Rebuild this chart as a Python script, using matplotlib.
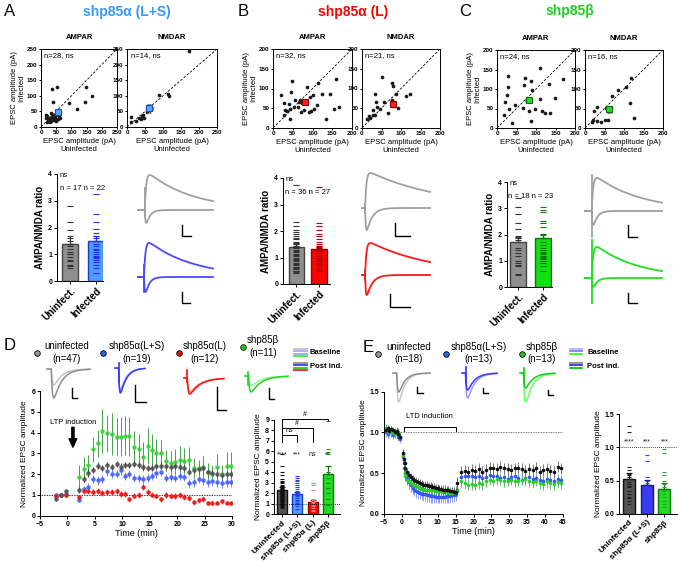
import numpy as np
import matplotlib
matplotlib.use('Agg')
import matplotlib.pyplot as plt

plt.rcParams['font.family'] = ['Liberation Sans', 'DejaVu Sans']
plt.rcParams['axes.linewidth'] = 0.7
plt.rcParams['xtick.major.width'] = 0.7
plt.rcParams['ytick.major.width'] = 0.7
plt.rcParams['xtick.major.size'] = 2
plt.rcParams['ytick.major.size'] = 2
plt.rcParams['xtick.major.pad'] = 1.5
plt.rcParams['ytick.major.pad'] = 1.5

# ---------------- data: scatter panels (EPSC amplitude, pA) ----------------
a_ampa_x = [36, 54, 41, 148, 145, 168, 93, 120, 15, 20, 25, 28, 30, 32, 35, 38, 40, 42,
            45, 48, 50, 55, 58, 60, 62, 20, 18, 33]
a_ampa_y = [121, 128, 81, 127, 81, 99, 76, 58, 40, 35, 25, 15, 30, 20, 35, 28, 40, 22,
            30, 38, 20, 25, 42, 35, 30, 15, 28, 45]
a_nmda_x = [172, 115, 118, 88, 10, 12, 25, 32, 38, 42, 45, 48, 55, 62]
a_nmda_y = [245, 105, 98, 102, 15, 33, 20, 28, 25, 35, 40, 30, 48, 50]
b_ampa_x = [48, 21, 27, 46, 42, 35, 52, 56, 65, 69, 73, 63, 71, 87, 94, 100, 97, 113, 125,
            112, 145, 134, 159, 155, 166, 27, 44, 31, 90, 78, 40, 103]
b_ampa_y = [118, 83, 64, 90, 49, 42, 53, 70, 66, 72, 63, 53, 41, 104, 79, 83, 44, 115, 86,
            58, 86, 24, 125, 47, 53, 32, 24, 45, 40, 45, 62, 49]
b_nmda_x = [52, 78, 80, 34, 37, 57, 87, 112, 123, 93, 67, 28, 33, 18, 13, 20, 28, 45, 82, 76, 38]
b_nmda_y = [128, 113, 106, 87, 66, 66, 85, 81, 85, 51, 39, 45, 32, 30, 24, 26, 34, 47, 55, 70, 52]
c_ampa_x = [111, 27, 72, 28, 70, 88, 26, 89, 134, 170, 149, 21, 47, 66, 83, 30, 98, 109,
            115, 123, 136, 88, 38, 17]
c_ampa_y = [155, 134, 128, 105, 111, 121, 85, 98, 113, 125, 77, 66, 60, 51, 43, 49, 49, 75,
            43, 38, 38, 17, 13, 34]
c_nmda_x = [117, 106, 85, 115, 126, 68, 66, 54, 31, 23, 30, 40, 51, 60, 17, 21]
c_nmda_y = [129, 104, 98, 64, 26, 81, 51, 51, 54, 43, 17, 15, 21, 21, 15, 21]
# mean +/- sem squares (x, y, xerr, yerr)
a_ampa_mean = [55, 48, 8, 6]
a_nmda_mean = [62, 60, 9, 15]
b_ampa_mean = [81, 66, 7, 5]
b_nmda_mean = [80, 62, 8, 7]
c_ampa_mean = [81, 72, 9, 8]
c_nmda_mean = [62, 48, 8, 9]

# ---------------- data: AMPA/NMDA ratio bars ----------------
ratio_groups = ['Uninfect.', 'Infected']
a_ratio_unin = [2.8, 2.2, 1.9, 1.6, 1.5, 1.4, 1.3, 1.2, 1.1, 1.0, 1.0, 0.9, 0.8, 0.75, 0.6, 0.55, 0.5]
a_ratio_inf = [3.25, 2.5, 2.2, 1.95, 1.8, 1.7, 1.6, 1.5, 1.4, 1.3, 1.2, 1.15, 1.1, 1.0, 0.95,
               0.9, 0.85, 0.8, 0.7, 0.6, 0.5, 0.3]
a_ratio_mean = [1.40, 1.48]
a_ratio_sem = [0.27, 0.22]
b_ratio_unin = [3.75, 2.35, 2.2, 2.05, 1.95, 1.9, 1.8, 1.75, 1.7, 1.6, 1.55, 1.5, 1.45, 1.4,
                1.35, 1.3, 1.25, 1.2, 1.15, 1.1, 1.05, 1.0, 0.95, 0.9, 0.85, 0.8, 0.75, 0.7,
                0.65, 0.6, 0.6, 0.55, 0.5, 0.5, 0.45, 0.4]
b_ratio_inf = [3.65, 2.3, 2.2, 2.05, 1.9, 1.8, 1.7, 1.6, 1.5, 1.45, 1.4, 1.35, 1.3, 1.25, 1.2,
               1.1, 1.05, 1.0, 0.95, 0.9, 0.85, 0.8, 0.75, 0.7, 0.6, 0.55, 0.5]
b_ratio_mean = [1.40, 1.33]
b_ratio_sem = [0.11, 0.12]
c_ratio_unin = [3.4, 3.05, 2.8, 2.45, 2.2, 1.95, 1.85, 1.8, 1.5, 1.4, 1.3, 1.2, 1.0, 0.9,
                0.85, 0.8, 0.5, 0.45]
c_ratio_inf = [3.05, 2.95, 2.85, 2.5, 2.45, 2.3, 2.0, 1.85, 1.7, 1.6, 1.5, 1.4, 1.35, 1.3,
               1.25, 1.2, 1.15, 1.1, 1.05, 1.0, 0.9, 0.8, 0.6]
c_ratio_mean = [1.70, 1.86]
c_ratio_sem = [0.20, 0.15]

# ---------------- data: LTP time course (D) ----------------
d_t_base = [-2.1, -1.2, -0.3]
d_t_post = [2.2, 3.1, 3.8, 4.7, 5.6, 6.3, 7.2, 8.1, 9.0, 9.7, 10.5, 11.3, 12.1, 13.0, 13.7,
            14.6, 15.4, 16.2, 17.1, 17.9, 18.8, 19.7, 20.5, 21.3, 22.1, 23.0, 23.9, 24.7,
            25.6, 26.4, 27.3, 28.1, 29.0, 29.9]
d_gray_base = [0.8, 1.02, 1.2]
d_blue_base = [0.98, 1.0, 1.05]
d_red_base = [0.95, 1.0, 1.02]
d_green_base = [0.95, 1.0, 1.0]
d_gray = [1.22, 1.75, 2.05, 2.2, 2.4, 2.3, 2.45, 2.35, 2.5, 2.35, 2.45, 2.45, 2.5, 2.45, 2.35,
          2.3, 2.3, 2.4, 2.4, 2.4, 2.35, 2.4, 2.35, 2.3, 2.1, 2.2, 2.25, 2.3, 2.1, 2.05, 2.0,
          1.95, 2.0, 2.0]
d_gray_sem = [0.15, 0.15, 0.18, 0.15, 0.16, 0.15, 0.15, 0.16, 0.15, 0.17, 0.15, 0.15, 0.16,
              0.15, 0.15, 0.16, 0.15, 0.15, 0.17, 0.15, 0.15, 0.16, 0.15, 0.15, 0.16, 0.15,
              0.15, 0.16, 0.15, 0.15, 0.16, 0.15, 0.15, 0.15]
d_blue = [0.75, 1.3, 1.4, 1.75, 1.7, 1.75, 2.15, 2.0, 2.0, 2.2, 1.9, 2.0, 1.8, 1.8, 1.75, 1.8,
          1.9, 2.05, 2.1, 1.8, 1.85, 1.8, 1.9, 1.85, 1.55, 1.6, 1.75, 1.7, 1.6, 1.65, 1.6,
          1.55, 1.6, 1.6]
d_blue_sem = [0.1, 0.15, 0.15, 0.2, 0.2, 0.2, 0.22, 0.2, 0.2, 0.22, 0.2, 0.2, 0.2, 0.2, 0.2,
              0.2, 0.2, 0.22, 0.2, 0.2, 0.2, 0.2, 0.2, 0.2, 0.2, 0.2, 0.2, 0.2, 0.2, 0.2, 0.2,
              0.2, 0.2, 0.2]
d_red = [0.9, 1.2, 1.2, 1.15, 1.2, 1.1, 1.15, 1.15, 1.2, 1.05, 1.05, 0.8, 0.95, 1.0, 1.4, 1.15,
         1.0, 0.95, 0.8, 1.0, 0.95, 0.95, 1.0, 0.9, 0.85, 0.65, 0.75, 0.8, 0.6, 0.6, 0.6, 0.7,
         0.6, 0.6]
d_red_sem = [0.12, 0.15, 0.15, 0.15, 0.15, 0.15, 0.15, 0.15, 0.15, 0.15, 0.15, 0.12, 0.12,
             0.15, 0.15, 0.15, 0.12, 0.12, 0.12, 0.15, 0.15, 0.15, 0.15, 0.15, 0.15, 0.12,
             0.12, 0.15, 0.1, 0.1, 0.1, 0.12, 0.1, 0.1]
d_green = [1.88, 2.23, 2.44, 3.2, 3.48, 4.09, 3.96, 3.93, 3.8, 3.8, 3.85, 3.82, 3.29, 3.19,
           2.84, 3.35, 3.16, 3.03, 3.0, 2.65, 2.55, 2.6, 2.7, 2.65, 2.7, 2.3, 2.3, 2.35, 2.1,
           2.0, 2.35, 2.0, 2.4, 2.4]
d_green_sem = [0.55, 0.6, 0.5, 0.6, 0.65, 1.05, 0.9, 1.0, 0.9, 0.95, 0.95, 0.95, 0.8, 0.75,
               0.7, 0.85, 0.75, 0.65, 0.65, 0.5, 0.55, 0.6, 0.65, 0.6, 0.6, 0.5, 0.4, 0.5,
               0.45, 0.4, 0.6, 0.45, 0.65, 0.65]

# ---------------- data: LTP summary bars (D) ----------------
d_groups = ['Uninfected', 'shp85α (L+S)', 'shp85α (L)', 'shp85β']
d_unin = [5.75, 4.6, 4.05, 3.7, 3.4, 3.2, 3.05, 2.95, 2.8, 2.7, 2.6, 2.55, 2.5, 2.45, 2.4, 2.35,
          2.3, 2.25, 2.2, 2.15, 2.1, 2.05, 2.0, 1.95, 1.9, 1.85, 1.8, 1.75, 1.7, 1.65, 1.6,
          1.55, 1.5, 1.45, 1.4, 1.35, 1.3, 1.25, 1.2, 1.1, 1.0, 0.95, 0.9, 0.85, 0.8, 0.7, 0.6]
d_ls = [3.6, 3.45, 3.3, 3.15, 3.0, 2.8, 2.6, 2.4, 2.2, 2.0, 1.85, 1.7, 1.55, 1.4, 1.25, 1.1,
        0.95, 0.8, 0.55]
d_l = [3.0, 2.75, 2.3, 1.5, 1.35, 1.2, 1.05, 0.9, 0.75, 0.6, 0.45, 0.35]
d_b = [8.9, 6.2, 5.95, 5.7, 4.0, 3.5, 3.0, 2.5, 2.05, 1.5, 0.9]
d_bar_mean = [2.35, 1.95, 1.15, 3.82]
d_bar_sem = [0.2, 0.18, 0.2, 0.8]
d_stars = ['****', '***', 'ns', '**']

# ---------------- data: LTD time course (E) ----------------
e_t_base = [-4.5, -4.0, -3.5, -3.0, -2.5, -2.0, -1.5, -1.0, -0.5]
e_t_ltd = [0.25, 0.5, 0.75, 1.0, 1.5, 2.0, 2.5, 3.0, 3.5, 4.0, 4.5, 5.0, 5.5, 6.0, 6.5, 7.0,
           7.5, 8.0, 8.5, 9.0, 9.5, 10.0, 10.5, 11.0, 11.5, 12.0, 12.5, 13.0, 13.5, 14.0,
           14.5, 15.0]
e_t_post = [15.5, 16.5, 17.5, 18.5, 19.5, 20.5, 21.5, 22.5, 23.5, 24.5, 25.5, 26.5, 27.5,
            28.5, 29.5, 30.5, 31.5, 32.5, 33.5, 34.5, 35.5, 36.5, 37.5, 38.5, 39.5, 40.5,
            41.5, 42.5, 43.5, 44.5]
e_black_base = [1.03, 1.05, 1.02, 1.04, 1.03, 1.0, 1.02, 0.98, 0.95]
e_blue_base = [1.0, 0.98, 1.0, 1.03, 0.97, 1.0, 1.02, 0.95, 0.92]
e_green_base = [1.05, 1.0, 1.03, 1.0, 1.0, 0.98, 1.02, 1.0, 0.95]
e_black_ltd = [0.75, 0.68, 0.62, 0.57, 0.52, 0.48, 0.45, 0.43, 0.42, 0.40, 0.39, 0.38, 0.37,
               0.36, 0.36, 0.35, 0.34, 0.34, 0.33, 0.33, 0.32, 0.32, 0.31, 0.31, 0.30, 0.30,
               0.29, 0.29, 0.28, 0.28, 0.27, 0.27]
e_blue_ltd = [0.70, 0.62, 0.55, 0.50, 0.44, 0.39, 0.35, 0.32, 0.30, 0.28, 0.27, 0.26, 0.25,
              0.24, 0.24, 0.23, 0.23, 0.22, 0.22, 0.22, 0.21, 0.21, 0.21, 0.21, 0.21, 0.21,
              0.22, 0.22, 0.22, 0.23, 0.23, 0.24]
e_green_ltd = [0.72, 0.56, 0.50, 0.46, 0.42, 0.40, 0.38, 0.36, 0.35, 0.34, 0.33, 0.32, 0.31,
               0.31, 0.30, 0.30, 0.30, 0.29, 0.29, 0.29, 0.28, 0.28, 0.28, 0.28, 0.27, 0.27,
               0.27, 0.27, 0.26, 0.26, 0.27, 0.28]
e_black_post = [0.38, 0.52, 0.53, 0.52, 0.54, 0.53, 0.55, 0.52, 0.54, 0.57, 0.56, 0.55, 0.58,
                0.56, 0.55, 0.54, 0.56, 0.57, 0.55, 0.53, 0.55, 0.54, 0.57, 0.52, 0.54, 0.55,
                0.53, 0.52, 0.58, 0.56]
e_blue_post = [0.30, 0.45, 0.47, 0.46, 0.47, 0.45, 0.46, 0.44, 0.45, 0.48, 0.47, 0.46, 0.44,
               0.45, 0.43, 0.45, 0.46, 0.44, 0.42, 0.44, 0.45, 0.43, 0.44, 0.42, 0.41, 0.43,
               0.42, 0.40, 0.43, 0.42]
e_green_post = [0.28, 0.40, 0.38, 0.36, 0.37, 0.36, 0.38, 0.37, 0.40, 0.42, 0.41, 0.43, 0.42,
                0.40, 0.41, 0.42, 0.40, 0.41, 0.42, 0.43, 0.40, 0.39, 0.41, 0.38, 0.37, 0.40,
                0.38, 0.37, 0.39, 0.38]
e_sem = {'black': (0.04, 0.05, 0.07), 'blue': (0.05, 0.08, 0.06), 'green': (0.05, 0.06, 0.07)}

# ---------------- data: LTD summary bars (E) ----------------
e_groups = ['Uninfected', 'shp85α (L+S)', 'shp85β']
e_unin = [1.32, 1.23, 0.70, 0.66, 0.6, 0.58, 0.55, 0.52, 0.48, 0.45, 0.42, 0.4, 0.35, 0.3,
          0.26, 0.24, 0.2, 0.15]
e_ls = [0.89, 0.80, 0.55, 0.5, 0.47, 0.42, 0.38, 0.34, 0.3, 0.25, 0.2, 0.15, 0.1]
e_b = [0.98, 0.92, 0.63, 0.58, 0.5, 0.45, 0.4, 0.35, 0.3, 0.25, 0.2, 0.15, 0.1]
e_bar_mean = [0.53, 0.44, 0.38]
e_bar_sem = [0.08, 0.07, 0.08]
e_stars = ['****', '***', '***']

W, H = 681, 572
fig = plt.figure(figsize=(W / 100, H / 100), dpi=100)


def box(l, t, r, b):
    # axes from pixel box (left, top, right, bottom)
    return fig.add_axes([l / W, 1 - b / H, (r - l) / W, (b - t) / H])


def ftext(x, y, s, **kw):
    fig.text(x / W, 1 - y / H, s, **kw)


def scatter_panel(ax, xs, ys, mean, lim, step, fill, edge, note, title):
    ax.plot([0, lim], [0, lim], ls=(0, (3, 2)), color='k', lw=0.6)
    ax.scatter(xs, ys, s=7, color='#1a1a1a', lw=0, zorder=3, clip_on=False)
    ax.errorbar(mean[0], mean[1], xerr=mean[2], yerr=mean[3], fmt='s', ms=5, mfc=fill,
                mec=edge, mew=0.8, ecolor='#8a8a8a', elinewidth=0.8, capsize=1.5, zorder=4)
    ax.set_xlim(0, lim)
    ax.set_ylim(0, lim)
    ticks = np.arange(0, lim + 1, step)
    ax.set_xticks(ticks)
    ax.set_yticks(ticks)
    ax.tick_params(labelsize=4.5, length=1.5, pad=1)
    for lab in ax.get_xticklabels() + ax.get_yticklabels():
        lab.set_fontweight('bold')
    ax.text(0.04, 0.96, note, transform=ax.transAxes, va='top', ha='left', fontsize=5.5)
    ax.set_title(title, fontsize=5.5, fontweight='bold', pad=7)
    ax.set_xlabel('EPSC amplitude (pA)\nUninfected', fontsize=5.5, labelpad=2,
                  linespacing=1.1)


def bar_panel(ax, groups, dashes, means, sems, fills, edges, dcols, width, xlim, ymax,
              yticks, ylabel, lsize, rot_size, dash_ms):
    for i in range(len(groups)):
        ax.bar(i, means[i], width, color=fills[i], edgecolor=edges[i], lw=1.0, zorder=2)
        ax.errorbar(i, means[i], yerr=[[0], [sems[i]]], color=edges[i], capsize=2,
                    elinewidth=0.9, capthick=0.9, zorder=3)
        ax.plot(np.full(len(dashes[i]), i), dashes[i], ls='none', marker='_', ms=dash_ms,
                mew=0.8, color=dcols[i], zorder=4, clip_on=False)
    ax.set_xlim(*xlim)
    ax.set_ylim(0, ymax)
    ax.set_yticks(yticks)
    ax.set_xticks(range(len(groups)))
    ax.set_xticklabels(groups, rotation=45, ha='right', rotation_mode='anchor',
                       fontweight='bold', fontsize=rot_size)
    ax.tick_params(axis='y', labelsize=5)
    for lab in ax.get_yticklabels():
        lab.set_fontweight('bold')
    ax.spines['top'].set_visible(False)
    ax.spines['right'].set_visible(False)
    ax.set_ylabel(ylabel, fontsize=lsize, labelpad=2,
                  fontweight='bold' if lsize > 6.5 else 'normal')


# ---------------- A, B, C scatter ----------------
ax = box(41, 49, 117, 127)
scatter_panel(ax, a_ampa_x, a_ampa_y, a_ampa_mean, 250, 50, '#55a8ff', '#1f4fbf',
              'n=28, ns', 'AMPAR')
ax.set_ylabel('EPSC amplitude (pA)\nInfected', fontsize=5.5, labelpad=1, linespacing=1.1)
ax = box(127, 49, 217, 127)
scatter_panel(ax, a_nmda_x, a_nmda_y, a_nmda_mean, 250, 50, '#55a8ff', '#1f4fbf',
              'n=14, ns', 'NMDAR')

ax = box(273, 49, 352, 128)
scatter_panel(ax, b_ampa_x, b_ampa_y, b_ampa_mean, 200, 50, '#ff2020', '#8a0000',
              'n=32, ns', 'AMPAR')
ax.set_ylabel('EPSC amplitude (pA)\nInfected', fontsize=5.5, labelpad=1, linespacing=1.1)
ax = box(362, 49, 440, 128)
scatter_panel(ax, b_nmda_x, b_nmda_y, b_nmda_mean, 200, 50, '#ff2020', '#8a0000',
              'n=21, ns', 'NMDAR')

ax = box(497, 50, 575, 128)
scatter_panel(ax, c_ampa_x, c_ampa_y, c_ampa_mean, 200, 50, '#22dd22', '#0b6b0b',
              'n=24, ns', 'AMPAR')
ax.set_ylabel('EPSC amplitude (pA)\nInfected', fontsize=5.5, labelpad=1, linespacing=1.1)
ax = box(585, 50, 663, 128)
scatter_panel(ax, c_nmda_x, c_nmda_y, c_nmda_mean, 200, 50, '#22dd22', '#0b6b0b',
              'n=16, ns', 'NMDAR')

# ---------------- A, B, C ratio bars ----------------
ratio_sets = [
    ((57, 174, 103, 281), [a_ratio_unin, a_ratio_inf], a_ratio_mean, a_ratio_sem,
     ['#8f8f8f', '#4f9dff'], ['#444444', '#1b3fc4'], ['#333333', '#2a2aff'],
     0.62, (-0.5, 1.27), 'n = 17 n = 22'),
    ((283, 178, 330, 284), [b_ratio_unin, b_ratio_inf], b_ratio_mean, b_ratio_sem,
     ['#8f8f8f', '#ff0000'], ['#444444', '#a00000'], ['#333333', '#b00000'],
     0.7, (-0.6, 1.5), 'n = 36 n = 27'),
    ((507, 182, 552, 287), [c_ratio_unin, c_ratio_inf], c_ratio_mean, c_ratio_sem,
     ['#8f8f8f', '#11e011'], ['#444444', '#0a780a'], ['#333333', '#0a780a'],
     0.64, (-0.45, 1.36), 'n = 18 n = 23'),
]
for pos, dsets, m, s, fills, edges, dcols, wd, xl, ns in ratio_sets:
    ax = box(*pos)
    bar_panel(ax, ratio_groups, dsets, m, s, fills, edges, dcols, wd, xl, 4, range(5),
              'AMPA/NMDA ratio', 7, 7, 3.8)
    ax.text(xl[0] + 0.1, 3.95, 'ns', fontsize=5.5, ha='left', va='center')
    ax.text(0.5, 3.45, ns, fontsize=5.5, ha='center', va='center')

# ---------------- D time course ----------------
ax = box(40, 391, 232, 515.7)
ax.axhline(1, color='k', ls=(0, (1, 1)), lw=0.6, zorder=1)
series_d = [
    (d_green_base, d_green, d_green_sem, '#3ccf3c', '#3a9f3a'),
    (d_blue_base, d_blue, d_blue_sem, '#4a63ff', '#6f7fff'),
    (d_red_base, d_red, d_red_sem, '#ee1414', '#e05050'),
    (d_gray_base, d_gray, d_gray_sem, '#555555', '#333333'),
]
for vb, vp, ep, col, ecol in series_d:
    ax.errorbar(d_t_base, vb, yerr=0.05, fmt='o', ms=3.2, mfc=col, mec=col, mew=0,
                ecolor=ecol, elinewidth=0.7, capsize=1.2, capthick=0.7, alpha=0.95)
    ax.errorbar(d_t_post, vp, yerr=ep, fmt='o', ms=3.2, mfc=col, mec=col, mew=0,
                ecolor=ecol, elinewidth=0.7, capsize=1.2, capthick=0.7, alpha=0.95)
ax.set_xlim(-5, 30)
ax.set_ylim(0, 6)
ax.set_xticks(range(-5, 31, 5))
ax.set_yticks(range(7))
ax.tick_params(labelsize=5)
for lab in ax.get_xticklabels() + ax.get_yticklabels():
    lab.set_fontweight('bold')
ax.spines['top'].set_visible(False)
ax.spines['right'].set_visible(False)
ax.set_xlabel('Time (min)', fontsize=6.5, labelpad=1)
ax.set_ylabel('Normalized EPSC amplitude', fontsize=6, labelpad=2)
ax.text(1.1, 4.5, 'LTP induction', fontsize=5.5, ha='center', va='center')
ax.annotate('', xy=(1.0, 3.3), xytext=(1.0, 4.25),
            arrowprops=dict(facecolor='k', edgecolor='k', width=1.6, headwidth=5.5,
                            headlength=6, shrink=0))

# ---------------- D bars ----------------
ax = box(274, 419.7, 340, 514.3)
bar_panel(ax, d_groups, [d_unin, d_ls, d_l, d_b], d_bar_mean, d_bar_sem,
          ['#555555', '#4f9dff', '#ff0000', '#22dd22'],
          ['#111111', '#1b3fc4', '#9a0000', '#0a780a'],
          ['#111111', '#3333ff', '#ff7070', '#138a13'],
          0.66, (-0.53, 3.8), 9, range(10), 'Normalized EPSC amplitude', 6, 6, 3.2)
ax.axhline(1, color='k', ls=(0, (1, 1.5)), lw=0.6, zorder=5)
for i, s in enumerate(d_stars):
    ax.text(i, 5.65, s, fontsize=5, ha='center', va='center', color='#222222')
ax.plot([0, 0, 3, 3], [6.9, 9.1, 9.1, 8.95], color='k', lw=0.7, clip_on=False)
ax.plot([0, 2, 2], [8.25, 8.25, 6.9], color='k', lw=0.7, clip_on=False)
ax.plot([0, 1, 1], [7.5, 7.5, 6.9], color='k', lw=0.7, clip_on=False)
ax.text(1.5, 9.2, '#', fontsize=5, ha='center', va='bottom')
ax.text(1.0, 8.35, '#', fontsize=5, ha='center', va='bottom')
ax.text(0.5, 7.6, 'ns', fontsize=5, ha='center', va='bottom')

# ---------------- E time course ----------------
ax = box(384, 391.7, 563, 514)
ax.axhline(1, color='#555555', ls=(0, (1, 1)), lw=0.6, zorder=1)
series_e = [
    ('blue', e_blue_base, e_blue_ltd, e_blue_post, '#3355ff', '#7f8fff'),
    ('green', e_green_base, e_green_ltd, e_green_post, '#2ccc2c', '#4caf4c'),
    ('black', e_black_base, e_black_ltd, e_black_post, '#111111', '#666666'),
]
for key, vb, vl, vp, col, ecol in series_e:
    sb, sl, sp = e_sem[key]
    for tt, vv, ss in ((e_t_base, vb, sb), (e_t_ltd, vl, sl), (e_t_post, vp, sp)):
        ax.errorbar(tt, vv, yerr=ss, fmt='o', ms=2.6, mfc=col, mec=col, mew=0,
                    ecolor=ecol, elinewidth=0.6, capsize=1, capthick=0.6)
ax.plot([0.5, 0.5, 15, 15], [1.02, 1.07, 1.07, 1.02], color='k', lw=0.7)
ax.text(7.8, 1.19, 'LTD induction', fontsize=5.5, ha='center', va='center')
ax.set_xlim(-5, 45)
ax.set_ylim(0, 1.5)
ax.set_xticks(range(-5, 46, 5))
ax.set_yticks([0, 0.5, 1.0, 1.5])
ax.set_yticklabels(['0.0', '0.5', '1.0', '1.5'])
ax.tick_params(labelsize=5)
for lab in ax.get_xticklabels() + ax.get_yticklabels():
    lab.set_fontweight('bold')
ax.spines['top'].set_visible(False)
ax.spines['right'].set_visible(False)
ax.set_xlabel('Time (min)', fontsize=6.5, labelpad=1)
ax.set_ylabel('Normalized EPSC amplitude', fontsize=6, labelpad=2)

# ---------------- E bars ----------------
ax = box(619.3, 414, 677, 514)
bar_panel(ax, e_groups, [e_unin, e_ls, e_b], e_bar_mean, e_bar_sem,
          ['#555555', '#3a3af0', '#22dd22'], ['#111111', '#15158f', '#0a780a'],
          ['#222222', '#3a3aff', '#2f9f2f'],
          0.68, (-0.55, 2.71), 1.5, [0, 0.5, 1.0, 1.5], 'Normalized EPSC amplitude', 6, 6,
          3.4)
ax.set_yticklabels(['0.0', '0.5', '1.0', '1.5'], fontweight='bold')
ax.axhline(1, color='k', ls=(0, (1, 1.5)), lw=0.6, zorder=5)
for i, s in enumerate(e_stars):
    ax.text(i, 1.08, s, fontsize=5, ha='center', va='center', color='#222222')

# ---------------- overlay: headings, traces, scale bars ----------------
ftext(10, 12, 'A', fontsize=12, ha='center', va='center')
ftext(127, 12, 'shp85α (L+S)', color='#3399ff', fontsize=10, fontweight='bold',
      ha='center', va='center')
ftext(243, 12, 'B', fontsize=12, ha='center', va='center')
ftext(353, 12, 'shp85α (L)', color='#ff0000', fontsize=10, fontweight='bold',
      ha='center', va='center')
ftext(465, 11, 'C', fontsize=12, ha='center', va='center')
ftext(570, 11, 'shp85β', color='#22cc22', fontsize=10, fontweight='bold',
      ha='center', va='center')
ftext(10, 346, 'D', fontsize=12, ha='center', va='center')
ftext(368, 347, 'E', fontsize=12, ha='center', va='center')

ov = fig.add_axes([0, 0, 1, 1])
ov.set_xlim(0, W)
ov.set_ylim(H, 0)
ov.axis('off')
ov.patch.set_alpha(0)


def wave(t0, tr, td, n=300):
    t = np.linspace(0, 1, n)
    s = np.clip(t - t0, 0, None)
    w = (1 - np.exp(-s / tr)) * np.exp(-s / td)
    return t, w / w.max()


def pair_trace(x0, x1, base, up_h, dn_h, st, art, td_up, td_dn, col):
    t, up = wave(st, 0.02, td_up)
    t, dn = wave(st, 0.012, td_dn)
    xs = x0 + t * (x1 - x0)
    ov.plot(xs, base - up_h * up, color=col, lw=1.3)
    ov.plot(xs, base + dn_h * dn, color=col, lw=1.3)
    xa = x0 + st * (x1 - x0)
    ov.plot([xa, xa], art, color=col, lw=1.3)


def scale_bar(x, yt, yb, xr):
    ov.plot([x, x, xr], [yt, yb, yb], color='k', lw=1.0)


pair_trace(138, 213, 210, 35, 13, 0.09, (188, 216), 0.6, 0.05, '#a0a0a0')
pair_trace(138, 213, 277, 34, 15, 0.08, (265, 292), 0.6, 0.05, '#4a4aff')
pair_trace(362, 430, 208, 35, 22, 0.045, (204, 213), 1.1, 0.08, '#a0a0a0')
pair_trace(362, 430, 275, 32, 20, 0.045, (270, 280), 0.95, 0.08, '#ff1a1a')
pair_trace(585, 662, 211, 33, 14, 0.087, (175, 237), 0.6, 0.05, '#a0a0a0')
pair_trace(585, 662, 278, 31, 9, 0.087, (240, 303), 0.55, 0.05, '#22e022')
for sb in [(182, 225, 236, 191), (182, 292, 303, 190), (395, 223, 236, 410),
           (390, 294, 307, 410), (628, 225, 237, 637), (628, 293, 303, 637)]:
    scale_bar(*sb)


def epsc_trace(x0, x1, base, depth, st, td, col, art=None):
    t, w = wave(st, 0.03, td)
    ov.plot(x0 + t * (x1 - x0), base + depth * w, color=col, lw=1.1)
    if art:
        xa = x0 + st * (x1 - x0)
        ov.plot([xa, xa], art, color=col, lw=1.1)


# D headers
epsc_trace(47, 90, 369, 16, 0.1, 0.18, '#c4c4c4')
epsc_trace(47, 90, 369, 29, 0.1, 0.18, '#8e8e8e')
epsc_trace(115, 145, 368, 22, 0.12, 0.2, '#9a9aff', (363, 382))
epsc_trace(115, 145, 368, 25, 0.12, 0.2, '#3838ff', (363, 382))
epsc_trace(184, 224, 378, 14, 0.08, 0.25, '#ff8080', (370, 382))
epsc_trace(184, 224, 378, 16, 0.08, 0.25, '#ff1010', (370, 382))
epsc_trace(245, 288, 376, 10, 0.08, 0.22, '#8cff8c', (372, 385))
epsc_trace(245, 288, 376, 16, 0.08, 0.22, '#1ed81e', (372, 385))
for sb in [(72, 388, 398, 77), (135, 385, 402, 146), (217, 387, 410, 226),
           (269, 388, 399, 274)]:
    scale_bar(*sb)

# E headers
epsc_trace(393, 430, 373, 29, 0.1, 0.16, '#c8c8c8')
epsc_trace(393, 430, 373, 19, 0.1, 0.16, '#8e8e8e')
epsc_trace(462, 497, 373, 25, 0.1, 0.2, '#9a9aff', (367, 383))
epsc_trace(462, 497, 373, 17, 0.1, 0.2, '#3838ff', (367, 383))
epsc_trace(520, 555, 373, 29, 0.1, 0.2, '#66ff66', (368, 385))
epsc_trace(520, 555, 373, 15, 0.1, 0.2, '#14d014', (368, 385))
for sb in [(417, 387, 393, 423), (483, 388, 393, 488), (548, 390, 395, 553)]:
    scale_bar(*sb)

# group headers with coloured dots
head_d = [(37, 353, 67, 'uninfected', '(n=47)', '#9a9a9a'),
          (103, 353, 137, 'shp85α(L+S)', '(n=19)', '#2266ff'),
          (179, 353, 205, 'shp85α(L)', '(n=12)', '#ee1111'),
          (243, 347, 263, 'shp85β', '(n=11)', '#22cc22')]
head_e = [(378, 354, 409, 'uninfected', '(n=18)', '#9a9a9a'),
          (446, 354, 479, 'shp85α(L+S)', '(n=13)', '#2266ff'),
          (522, 354, 542, 'shp85β', '(n=13)', '#22cc22')]
for cx, cy, tx, name, n, col in head_d + head_e:
    ov.scatter([cx], [cy], s=16, color=col, edgecolor='k', lw=0.6, zorder=5)
    dy = -6 if cy == 347 else 0
    ftext(tx, 346 + dy + (1 if cx > 370 else 0), name, fontsize=7, ha='center', va='center')
    ftext(tx, 359 + dy, n, fontsize=7, ha='center', va='center')

# Baseline / Post ind. keys
for i, c in enumerate(['#c0c0c0', '#a9a9ff', '#8fb0ff', '#40ee40']):
    ov.plot([294, 307], [349 + 2.3 * i] * 2, color=c, lw=1.3)
for i, c in enumerate(['#8c8c8c', '#3a3aff', '#22cc22', '#ff2020']):
    ov.plot([294, 307], [363 + 2.3 * i] * 2, color=c, lw=1.3)
ftext(310, 353, 'Baseline', fontsize=5.5, fontweight='bold', ha='left', va='center')
ftext(310, 367, 'Post ind.', fontsize=5.5, fontweight='bold', ha='left', va='center')
for i, c in enumerate(['#b0b0ff', '#8080ff', '#40ee40']):
    ov.plot([570, 582], [349 + 2.4 * i] * 2, color=c, lw=1.3)
for i, c in enumerate(['#8c8c8c', '#3333ff', '#00cc00']):
    ov.plot([570, 582], [363 + 2.4 * i] * 2, color=c, lw=1.3)
ftext(587, 352, 'Baseline', fontsize=5.5, fontweight='bold', ha='left', va='center')
ftext(587, 367, 'Post ind.', fontsize=5.5, fontweight='bold', ha='left', va='center')

fig.savefig('out.png', dpi=100)
